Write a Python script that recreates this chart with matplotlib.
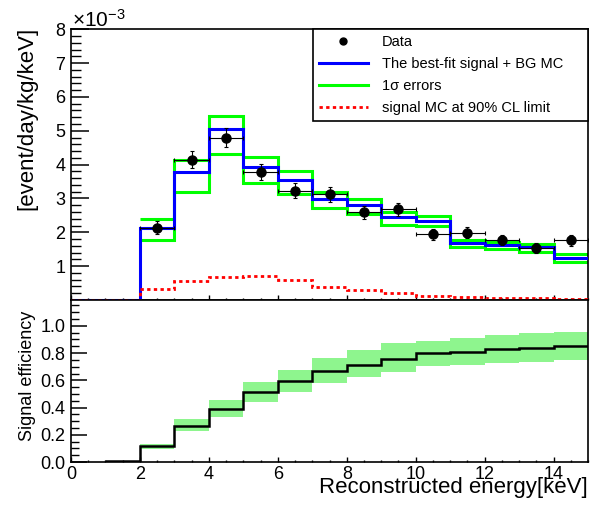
import matplotlib
matplotlib.use("Agg")
import matplotlib.pyplot as plt
from matplotlib.lines import Line2D
from matplotlib.ticker import MultipleLocator, FuncFormatter
import numpy as np

plt.rcParams["font.family"] = ["Liberation Sans", "DejaVu Sans"]
plt.rcParams["mathtext.fontset"] = "custom"
plt.rcParams["mathtext.rm"] = "Liberation Sans"

# ── 数据 ──────────────────────────────────────────────────────────
# 能量分箱 (keV)
edges_all = np.arange(0, 16)          # 0..15
edges_sig = np.arange(2, 16)          # 2..15
edges_eff = np.arange(1, 16)          # 1..15

# 上图：单位 1e-3 event/day/kg/keV
best_fit = [0, 0, 2.12, 3.79, 5.04, 3.94, 3.54, 2.99, 2.80, 2.44, 2.34, 1.67, 1.61, 1.56, 1.24]
err_up = [2.38, 4.14, 5.45, 4.24, 3.80, 3.18, 2.99, 2.59, 2.49, 1.77, 1.71, 1.65, 1.36]
err_lo = [1.77, 3.18, 4.31, 3.45, 3.13, 2.71, 2.55, 2.22, 2.20, 1.58, 1.51, 1.43, 1.12]
signal_mc = [0, 0, 0.32, 0.57, 0.67, 0.71, 0.59, 0.38, 0.28, 0.20, 0.13, 0.10, 0.07, 0.05, 0.04]

data_x = [2.5, 3.5, 4.5, 5.5, 6.5, 7.5, 8.5, 9.5, 10.5, 11.5, 12.5, 13.5, 14.5]
data_y = [2.14, 4.14, 4.80, 3.79, 3.23, 3.12, 2.59, 2.68, 1.94, 1.99, 1.76, 1.53, 1.76]
data_err = [0.19, 0.25, 0.27, 0.24, 0.22, 0.21, 0.20, 0.20, 0.17, 0.17, 0.15, 0.14, 0.17]

# 下图：信号效率
eff = [0.005, 0.116, 0.264, 0.388, 0.511, 0.593, 0.667, 0.716, 0.753, 0.798, 0.810, 0.827, 0.840, 0.852]
eff_up = [0.136, 0.314, 0.457, 0.585, 0.679, 0.761, 0.822, 0.872, 0.889, 0.914, 0.931, 0.946, 0.956]
eff_lo = [0.099, 0.230, 0.329, 0.444, 0.511, 0.581, 0.625, 0.659, 0.704, 0.711, 0.729, 0.733, 0.748]

legend_labels = ["Data", "The best-fit signal + BG MC", "1σ errors", "signal MC at 90% CL limit"]

BLUE = "#0000ff"
GREEN = "#00ff00"
RED = "#ff0000"

# ── 画布 ──────────────────────────────────────────────────────────
fig = plt.figure(figsize=(6.16, 5.05), dpi=100)
ax1 = fig.add_axes([0.1153, 0.406, 0.8393, 0.536])
ax2 = fig.add_axes([0.1153, 0.0851, 0.8393, 0.3209])

# ── 上图：能谱 ────────────────────────────────────────────────────
ax1.stairs(err_up, edges_sig, baseline=None, color=GREEN, lw=2.2, zorder=2)
ax1.stairs(err_lo, edges_sig, baseline=None, color=GREEN, lw=2.2, zorder=2)
ax1.stairs(best_fit, edges_all, baseline=None, color=BLUE, lw=2.2, zorder=3)
ax1.stairs(signal_mc, edges_all, baseline=None, color=RED, lw=2.0,
           linestyle=(0, (1.2, 1.2)), zorder=4)
ax1.errorbar(data_x, data_y, yerr=data_err, xerr=0.5, fmt="o", color="black",
             ms=6.5, elinewidth=0.8, capsize=1.5, capthick=0.8, zorder=5)

ax1.set_xlim(0, 15)
ax1.set_ylim(0, 8)
ax1.xaxis.set_major_locator(MultipleLocator(2))
ax1.xaxis.set_minor_locator(MultipleLocator(0.5))
ax1.yaxis.set_major_locator(MultipleLocator(1))
ax1.yaxis.set_minor_locator(MultipleLocator(0.2))
ax1.yaxis.set_major_formatter(FuncFormatter(lambda v, p: "" if v == 0 else f"{v:.0f}"))
ax1.tick_params(axis="y", which="major", direction="in", length=13, width=1.1, labelsize=13, pad=4)
ax1.tick_params(axis="y", which="minor", direction="in", length=7, width=1.0)
ax1.tick_params(axis="x", which="major", direction="in", length=3.6, width=1.0, labelbottom=False)
ax1.tick_params(axis="x", which="minor", direction="in", length=1.8, width=1.0)
for sp in ax1.spines.values():
    sp.set_linewidth(1.2)

handles = [
    Line2D([], [], marker="o", ls="none", color="black", ms=5),
    Line2D([], [], color=BLUE, lw=2.2),
    Line2D([], [], color=GREEN, lw=2.2),
    Line2D([], [], color=RED, lw=2.0, ls=(0, (1.2, 1.2))),
]
leg = ax1.legend(handles, legend_labels, loc="upper left",
                 bbox_to_anchor=(0.468, 0.665, 0.532, 0.335), mode="expand",
                 borderaxespad=0, fancybox=False, edgecolor="black", framealpha=1,
                 fontsize=10.5, handlelength=3.4, handletextpad=0.95,
                 labelspacing=0.56, borderpad=0.38)
leg.get_frame().set_linewidth(1.2)

fig.text(0.117, 0.947, r"$\mathregular{\times10^{-3}}$", fontsize=15, va="baseline", ha="left")
fig.text(0.044, 0.9465, "[event/day/kg/keV]", rotation=90, fontsize=16, ha="center", va="top")

# ── 下图：信号效率 ────────────────────────────────────────────────
ax2.stairs(eff_up, edges_sig, baseline=eff_lo, fill=True, color="#8ef58e", lw=0, zorder=2)
ax2.stairs(eff, edges_eff, baseline=None, color="black", lw=1.8, zorder=3)

ax2.set_xlim(0, 15)
ax2.set_ylim(0, 1.19)
ax2.xaxis.set_major_locator(MultipleLocator(2))
ax2.xaxis.set_minor_locator(MultipleLocator(0.5))
ax2.yaxis.set_major_locator(MultipleLocator(0.2))
ax2.yaxis.set_minor_locator(MultipleLocator(0.05))
ax2.yaxis.set_major_formatter(FuncFormatter(lambda v, p: f"{v:.1f}"))
ax2.tick_params(axis="y", which="major", direction="in", length=11.5, width=1.1, labelsize=13, pad=4)
ax2.tick_params(axis="y", which="minor", direction="in", length=5.8, width=1.0)
ax2.tick_params(axis="x", which="major", direction="in", length=3.6, width=1.0, labelsize=13, pad=3)
ax2.tick_params(axis="x", which="minor", direction="in", length=1.8, width=1.0)
for sp in ax2.spines.values():
    sp.set_linewidth(1.2)

fig.text(0.044, 0.385, "Signal efficiency", rotation=90, fontsize=13, ha="center", va="top")
fig.text(0.9545, 0.0238, "Reconstructed energy[keV]", fontsize=16, ha="right", va="baseline")

fig.savefig("out.png", dpi=100)
